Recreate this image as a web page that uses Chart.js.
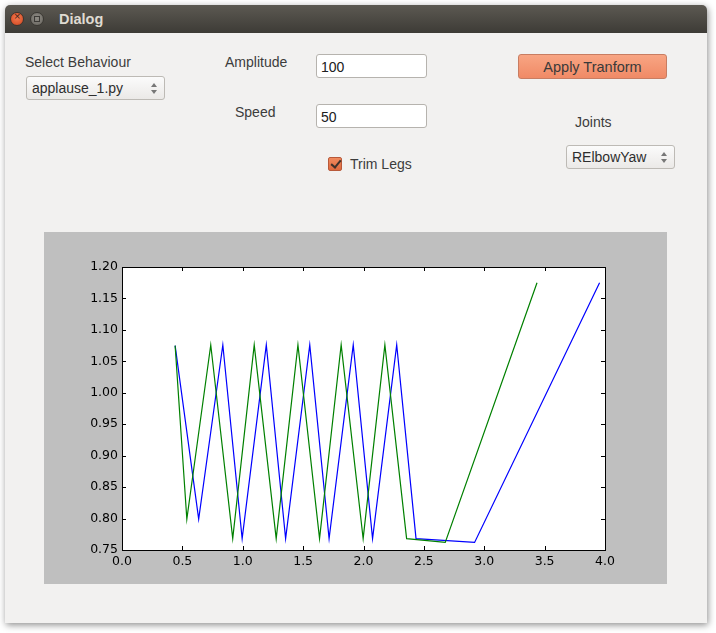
<!DOCTYPE html>
<html>
<head>
<meta charset="utf-8">
<script src="https://cdn.jsdelivr.net/npm/chart.js@4"></script>
<style>
  html, body { margin: 0; padding: 0; background: #ffffff; width: 716px; height: 633px; overflow: hidden; }
  body { position: relative; font-family: "Liberation Sans", Arial, sans-serif; font-size: 14px; color: #3c3c3c; }
  .win { position: absolute; left: 5px; top: 5px; width: 702px; height: 618px; background: #f2f1f0;
         border-radius: 5px 5px 0 0; box-shadow: 1px 2px 7px rgba(0,0,0,0.45); }
  .title { position: absolute; left: 0; top: 0; width: 702px; height: 28px; border-radius: 5px 5px 0 0;
           background: linear-gradient(#5c5952, #3d3b36); }
  .title .t { position: absolute; left: 54px; top: 6px; font-weight: bold; color: #dfdbd2; font-size: 14.5px; }
  .btnc { position: absolute; top: 7px; width: 14px; height: 14px; border-radius: 50%; }
  .close { left: 5px; background: radial-gradient(circle at 50% 40%, #f47a50, #d0461f); border: 1px solid #40332c; box-sizing: border-box;}
  .close:after { content: "×"; position: absolute; left: 3px; top: -3px; font-size: 11px; color: #40261c; }
  .mini { left: 25px; background: radial-gradient(circle at 50% 40%, #8f8c85, #67645e); border: 1px solid #3a3833; box-sizing: border-box;}
  .mini:after { content: ""; position: absolute; left: 3px; top: 3px; width: 4px; height: 4px; border: 1px solid #3d3b37; }
  .lbl { position: absolute; white-space: nowrap; }
  .edit { position: absolute; box-sizing: border-box; width: 111px; height: 24px; background: #fff;
          border: 1px solid #b6b3ae; border-radius: 3px; padding: 4px 0 0 4px; color: #202020; }
  .combo { position: absolute; box-sizing: border-box; height: 24px; border: 1px solid #bdbab5; border-radius: 3px;
           background: linear-gradient(#fbfbfb, #ebe9e7); padding: 3px 0 0 5px; color: #2e2e2e; }
  .arr { position: absolute; right: 7px; top: 6px; width: 6px; height: 11px; }
  .arr:before { content: ""; position: absolute; left: 0; top: 0; border-left: 3px solid transparent; border-right: 3px solid transparent; border-bottom: 4px solid #777; }
  .arr:after { content: ""; position: absolute; left: 0; bottom: 0; border-left: 3px solid transparent; border-right: 3px solid transparent; border-top: 4px solid #777; }
  .apply { position: absolute; left: 513px; top: 49px; width: 149px; height: 25px; box-sizing: border-box;
           border: 1px solid #c87d62; border-radius: 3px; background: linear-gradient(#f8a583, #f08a66);
           text-align: center; padding-top: 4px; font-size: 14.5px; color: #3a3a3a; }
  .chk { position: absolute; left: 323px; top: 152px; width: 14px; height: 14px; box-sizing: border-box; border-radius: 2px;
         background: linear-gradient(#f08a5e, #de6a3e); border: 1px solid #b8593a; }
  .chk:after { content: ""; position: absolute; left: 4px; top: 0px; width: 4px; height: 8px; border: solid #3e322c;
               border-width: 0 2px 2px 0; transform: rotate(40deg); }
  .panel { position: absolute; left: 39px; top: 227px; width: 623px; height: 352px; background: #bfbfbf; }
</style>
</head>
<body>
<div class="win">
  <div class="title">
    <div class="btnc close"></div>
    <div class="btnc mini"></div>
    <div class="t">Dialog</div>
  </div>

  <div class="lbl" style="left:20px; top:49px;">Select Behaviour</div>
  <div class="combo" style="left:21px; top:71px; width:139px;">applause_1.py<div class="arr"></div></div>

  <div class="lbl" style="left:220px; top:49px;">Amplitude</div>
  <div class="edit" style="left:311px; top:49px;">100</div>
  <div class="lbl" style="left:230px; top:99px;">Speed</div>
  <div class="edit" style="left:311px; top:99px;">50</div>

  <div class="chk"></div>
  <div class="lbl" style="left:345px; top:151px;">Trim Legs</div>

  <div class="apply">Apply Tranform</div>
  <div class="lbl" style="left:570px; top:109px;">Joints</div>
  <div class="combo" style="left:561px; top:140px; width:109px;">RElbowYaw<div class="arr"></div></div>

  <div class="panel"><canvas id="myChart" width="623" height="352"></canvas></div>
</div>

<script>
// values (time, joint angle)
var blueX = [0.44, 0.635, 0.835, 0.995, 1.195, 1.355, 1.555, 1.715, 1.915, 2.075, 2.275, 2.435, 2.92, 3.955];
var blueY = [1.075, 0.799, 1.076, 0.768, 1.076, 0.768, 1.076, 0.768, 1.076, 0.768, 1.076, 0.768, 0.762, 1.175];
var greenX = [0.44, 0.537, 0.735, 0.917, 1.095, 1.277, 1.457, 1.636, 1.815, 1.997, 2.177, 2.357, 2.677, 3.437];
var greenY = [1.075, 0.799, 1.076, 0.768, 1.076, 0.768, 1.076, 0.768, 1.076, 0.768, 1.076, 0.768, 0.762, 1.175];
var xTicks = [0.0, 0.5, 1.0, 1.5, 2.0, 2.5, 3.0, 3.5, 4.0];
var yTicks = [0.75, 0.80, 0.85, 0.90, 0.95, 1.00, 1.05, 1.10, 1.15, 1.20];

function pts(xs, ys) {
    return xs.map(function (x, i) { return { x: x, y: ys[i] }; });
}

// matplotlib-style frame with inward ticks on all four sides
var framePlugin = {
    id: 'frame',
    afterDatasetsDraw: function (chart) {
        var ctx = chart.ctx, a = chart.chartArea;
        var xs = chart.scales.x, ys = chart.scales.y;
        ctx.save();
        ctx.strokeStyle = '#000';
        ctx.lineWidth = 1;
        ctx.beginPath();
        xTicks.forEach(function (v) {
            var px = Math.round(xs.getPixelForValue(v)) + 0.5;
            ctx.moveTo(px, a.bottom); ctx.lineTo(px, a.bottom - 4);
            ctx.moveTo(px, a.top); ctx.lineTo(px, a.top + 4);
        });
        yTicks.forEach(function (v) {
            var py = Math.round(ys.getPixelForValue(v)) + 0.5;
            ctx.moveTo(a.left, py); ctx.lineTo(a.left + 4, py);
            ctx.moveTo(a.right, py); ctx.lineTo(a.right - 4, py);
        });
        ctx.stroke();
        ctx.strokeRect(Math.round(a.left) + 0.5, Math.round(a.top) + 0.5,
                       Math.round(a.right - a.left), Math.round(a.bottom - a.top));
        ctx.restore();
    }
};

var whiteArea = {
    id: 'whiteArea',
    beforeDraw: function (chart) {
        var a = chart.chartArea;
        chart.ctx.save();
        chart.ctx.fillStyle = '#fff';
        chart.ctx.fillRect(a.left, a.top, a.right - a.left, a.bottom - a.top);
        chart.ctx.restore();
    }
};

new Chart("myChart", {
    type: "scatter",
    data: {
        datasets: [{
            label: "blue",
            data: pts(blueX, blueY),
            showLine: true,
            borderColor: "#0000ff",
            borderWidth: 1.2,
            pointRadius: 0,
            order: 1
        }, {
            label: "green",
            data: pts(greenX, greenY),
            showLine: true,
            borderColor: "#008000",
            borderWidth: 1.2,
            pointRadius: 0,
            order: 0
        }]
    },
    plugins: [whiteArea, framePlugin],
    options: {
        responsive: false,
        animation: false,
        layout: { padding: { left: 0, top: 35, right: 62, bottom: 0 } },
        plugins: { legend: { display: false }, tooltip: { enabled: false } },
        scales: {
            x: {
                type: "linear", min: 0, max: 4,
                afterBuildTicks: function (s) { s.ticks = xTicks.map(function (v) { return { value: v }; }); },
                afterFit: function (s) { s.height = 34; },
                grid: { display: false, drawTicks: false },
                border: { display: false },
                ticks: {
                    color: "#000", padding: 4,
                    font: { family: "DejaVu Sans", size: 12.5 },
                    maxRotation: 0, autoSkip: false,
                    callback: function (v) { return Number(v).toFixed(1); }
                }
            },
            y: {
                type: "linear", min: 0.75, max: 1.2,
                afterBuildTicks: function (s) { s.ticks = yTicks.map(function (v) { return { value: v }; }); },
                afterFit: function (s) { s.width = 78; },
                grid: { display: false, drawTicks: false },
                border: { display: false },
                ticks: {
                    color: "#000", padding: 4,
                    font: { family: "DejaVu Sans", size: 12.5 },
                    autoSkip: false,
                    callback: function (v) { return Number(v).toFixed(2); }
                }
            }
        }
    }
});
</script>
</body>
</html>
